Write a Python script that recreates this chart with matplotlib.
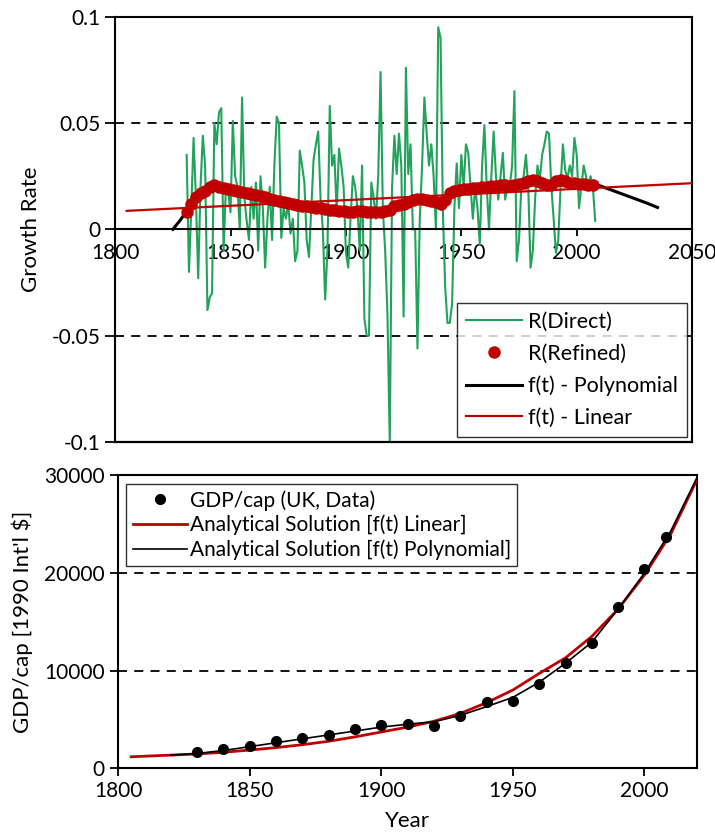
import numpy as np
import matplotlib
matplotlib.use('Agg')
import matplotlib.pyplot as plt
from matplotlib.ticker import FixedLocator, FuncFormatter

plt.rcParams['font.family'] = ['Lato', 'DejaVu Sans']
plt.rcParams['axes.unicode_minus'] = False

# ---------------- top panel data (growth rate) ----------------
direct_years = list(range(1831, 2009))
direct_rate = [
    0.035, -0.020, 0.010, 0.043, 0.015, -0.023, 0.020, 0.044, 0.030,          # 1831-1839
    -0.038, -0.032, -0.030, 0.050, 0.040, 0.055, 0.057, -0.010, 0.020, 0.018,  # 1840-1849
    0.008, 0.051, 0.025, 0.020, 0.000, 0.062, 0.015, 0.004, -0.005, 0.020,     # 1850-1859
    0.005, 0.022, -0.010, 0.025, 0.010, -0.018, 0.005, 0.020, -0.005, 0.030,   # 1860-1869
    0.053, 0.050, -0.004, 0.010, 0.005, 0.012, -0.002, 0.005, -0.015, -0.010,  # 1870-1879
    0.037, 0.030, 0.022, -0.005, -0.013, 0.010, 0.033, 0.040, 0.046, 0.015,    # 1880-1889
    0.000, -0.033, -0.010, 0.058, 0.030, 0.035, 0.008, 0.038, 0.030, 0.020,    # 1890-1899
    -0.011, -0.018, 0.005, 0.025, 0.020, 0.010, -0.010, 0.030, -0.042, -0.050, # 1900-1909
    -0.050, 0.022, 0.015, 0.005, 0.025, 0.074, 0.010, -0.010, -0.040, -0.100,  # 1910-1919
    0.020, 0.044, 0.026, 0.045, 0.030, -0.041, 0.076, 0.026, 0.040, 0.000,     # 1920-1929
    0.000, -0.056, 0.005, 0.030, 0.062, 0.045, 0.030, 0.040, 0.025, 0.000,     # 1930-1939
    0.095, 0.090, 0.009, -0.027, -0.044, -0.044, -0.035, 0.010, 0.031, 0.010,  # 1940-1949
    0.035, 0.020, 0.040, 0.036, 0.020, 0.005, 0.020, 0.010, -0.007, 0.030,     # 1950-1959
    0.049, 0.020, 0.000, 0.025, 0.046, 0.025, 0.014, 0.025, 0.036, 0.014,      # 1960-1969
    0.020, 0.020, 0.030, 0.065, -0.015, -0.005, 0.020, 0.025, 0.035, 0.020,    # 1970-1979
    -0.018, -0.010, 0.015, 0.030, 0.023, 0.035, 0.040, 0.046, 0.045, 0.020,    # 1980-1989
    0.005, -0.011, -0.005, 0.020, 0.040, 0.028, 0.024, 0.030, 0.025, 0.043,    # 1990-1999
    0.035, 0.010, 0.020, 0.030, 0.025, 0.020, 0.025, 0.020, 0.004,             # 2000-2008
]

refined_years = list(range(1831, 2009, 2))
refined_rate = [
    0.008, 0.012, 0.015, 0.017, 0.018, 0.020, 0.021, 0.020, 0.0195, 0.019,
    0.0185, 0.018, 0.0175, 0.017, 0.0165, 0.016, 0.0155, 0.015, 0.0145, 0.014,
    0.0135, 0.013, 0.0125, 0.012, 0.0115, 0.011, 0.011, 0.0105, 0.010, 0.010,
    0.0095, 0.009, 0.009, 0.0085, 0.0085, 0.008, 0.008, 0.0085, 0.0085, 0.008,
    0.008, 0.008, 0.008, 0.0085, 0.009, 0.011, 0.0115, 0.012, 0.013, 0.014,
    0.0145, 0.0145, 0.014, 0.0135, 0.013, 0.012, 0.014, 0.017, 0.018, 0.0185,
    0.019, 0.019, 0.0195, 0.0195, 0.020, 0.020, 0.0205, 0.0205, 0.021, 0.021,
    0.0205, 0.021, 0.0215, 0.022, 0.0225, 0.023, 0.0225, 0.022, 0.021, 0.021,
    0.0225, 0.023, 0.0225, 0.022, 0.022, 0.0215, 0.0215, 0.021, 0.021,
]

poly_years = [1825, 1828, 1831, 1835, 1840, 1845, 1850, 1860, 1870, 1880, 1890,
              1900, 1910, 1920, 1930, 1940, 1950, 1960, 1970, 1980, 1990, 2000,
              2010, 2015, 2020, 2025, 2030, 2035]
poly_rate = [0.0, 0.004, 0.0085, 0.015, 0.018, 0.0195, 0.0185, 0.016, 0.014, 0.012,
             0.0105, 0.009, 0.0085, 0.0095, 0.012, 0.014, 0.017, 0.019, 0.0205,
             0.0215, 0.022, 0.022, 0.0205, 0.0185, 0.0165, 0.0145, 0.0125, 0.0103]

linear_years = [1805, 2050]
linear_rate = [0.0087, 0.0217]

# ---------------- bottom panel data (GDP per capita) ----------------
gdp_years = [1830, 1840, 1850, 1860, 1870, 1880, 1890, 1900, 1910, 1920,
             1930, 1940, 1950, 1960, 1970, 1980, 1990, 2000, 2008]
gdp_vals = [1640, 1944, 2250, 2760, 3100, 3380, 3990, 4400, 4500, 4330,
            5360, 6790, 6860, 8600, 10750, 12830, 16480, 20370, 23680]

sol_lin_years = [1805, 1810, 1820, 1830, 1840, 1850, 1860, 1870, 1880, 1890, 1900,
                 1910, 1920, 1930, 1940, 1950, 1960, 1970, 1980, 1990, 2000, 2010, 2020]
sol_lin_vals = [1160, 1220, 1330, 1450, 1620, 1850, 2100, 2400, 2750, 3200, 3700,
                4200, 4800, 5600, 6700, 8000, 9700, 11300, 13500, 16300, 19800, 24000, 29600]

sol_poly_years = [1820, 1830, 1840, 1850, 1860, 1870, 1880, 1890, 1900, 1910, 1920,
                  1930, 1940, 1950, 1960, 1970, 1980, 1990, 2000, 2010, 2020]
sol_poly_vals = [1330, 1500, 1800, 2200, 2600, 3000, 3400, 3800, 4200, 4500, 4750,
                 5400, 6300, 7250, 8800, 10750, 12900, 16300, 20000, 24300, 29800]

GREEN = '#21a35b'
RED = '#c00000'

fig = plt.figure(figsize=(7.15, 8.34), dpi=100)

# ---------------- top panel ----------------
ax1 = fig.add_axes([0.161, 0.470, 0.807, 0.510])
ax1.plot(direct_years, direct_rate, color=GREEN, lw=1.5, label='R(Direct)', zorder=2)
ax1.plot(poly_years, poly_rate, color='black', lw=2.2, label='f(t) - Polynomial', zorder=3)
ax1.plot(linear_years, linear_rate, color=RED, lw=1.6, label='f(t) - Linear', zorder=4)
ax1.plot(refined_years, refined_rate, 'o', color=RED, ms=9, mew=0,
         label='R(Refined)', zorder=5)

for y in [0.05, -0.05]:
    ax1.axhline(y, color='black', lw=1.3, ls=(0, (5, 4)), zorder=1)
ax1.axhline(-0.1, color='black', lw=1.6, clip_on=False, zorder=6)

ax1.set_xlim(1800, 2050)
ax1.set_ylim(-0.1, 0.1)
ax1.spines['bottom'].set_position(('data', 0))
for s in ax1.spines.values():
    s.set_linewidth(1.5)
ax1.xaxis.set_major_locator(FixedLocator([1800, 1850, 1900, 1950, 2000, 2050]))
ax1.yaxis.set_major_locator(FixedLocator([-0.1, -0.05, 0, 0.05, 0.1]))
ax1.yaxis.set_major_formatter(FuncFormatter(lambda v, p: f'{v:g}'))
ax1.tick_params(axis='x', direction='out', length=5, width=1.3, labelsize=15, pad=5)
ax1.tick_params(axis='y', direction='out', length=7, width=1.3, labelsize=15)
ax1.set_ylabel('Growth Rate', fontsize=16, labelpad=8)

handles, labels = ax1.get_legend_handles_labels()
order = [0, 3, 1, 2]
leg1 = ax1.legend([handles[i] for i in order], [labels[i] for i in order],
                  loc='lower right', fontsize=15.5, frameon=True, fancybox=False,
                  edgecolor='black', borderaxespad=0.25, handlelength=2.6,
                  handletextpad=0.3, labelspacing=0.55, borderpad=0.4)
leg1.get_frame().set_linewidth(1.0)
leg1.set_zorder(10)

# ---------------- bottom panel ----------------
ax2 = fig.add_axes([0.165, 0.079, 0.810, 0.351])
ax2.plot(gdp_years, gdp_vals, 'o', color='black', ms=7, label='GDP/cap (UK, Data)', zorder=5)
ax2.plot(sol_lin_years, sol_lin_vals, color=RED, lw=2.0,
         label='Analytical Solution [f(t) Linear]', zorder=3)
ax2.plot(sol_poly_years, sol_poly_vals, color='black', lw=1.2,
         label='Analytical Solution [f(t) Polynomial]', zorder=4)

for y in [10000, 20000]:
    ax2.axhline(y, color='black', lw=1.3, ls=(0, (5, 4)), zorder=1)

ax2.set_xlim(1800, 2020)
ax2.set_ylim(0, 30000)
for s in ax2.spines.values():
    s.set_linewidth(1.5)
ax2.xaxis.set_major_locator(FixedLocator([1800, 1850, 1900, 1950, 2000]))
ax2.yaxis.set_major_locator(FixedLocator([0, 10000, 20000, 30000]))
ax2.tick_params(axis='both', direction='out', length=6, width=1.3, labelsize=15)
ax2.set_xlabel('Year', fontsize=16, labelpad=7)
ax2.set_ylabel("GDP/cap [1990 Int'l $]", fontsize=16, labelpad=8)

leg2 = ax2.legend(loc='upper left', fontsize=15, frameon=True, fancybox=False,
                  edgecolor='black', borderaxespad=0.4, handlelength=2.6,
                  handletextpad=0.15, labelspacing=0.2, borderpad=0.3)
leg2.get_frame().set_linewidth(1.0)

fig.savefig('out.png', dpi=100)
